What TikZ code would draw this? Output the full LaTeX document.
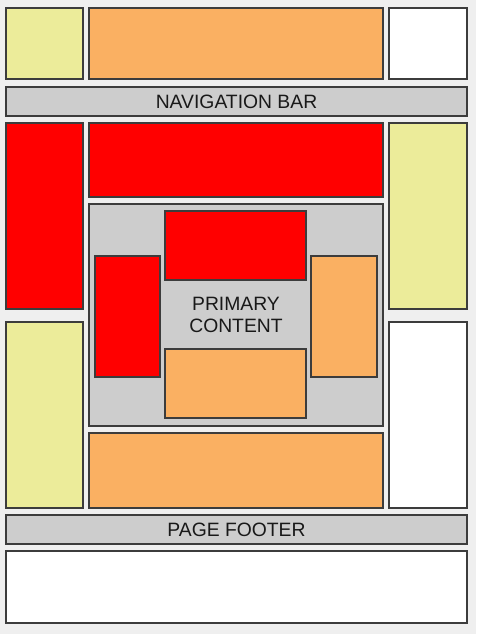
\documentclass[tikz,border=0pt]{standalone}
\usepackage{fontspec}
\setmainfont{Liberation Sans}
\usepackage{xcolor}
\usepackage{tikz}
\definecolor{pagegrey}{HTML}{EFEFEF}
\definecolor{barygrey}{HTML}{CDCDCD}
\definecolor{paleyellow}{HTML}{ECEC9A}
\definecolor{softorange}{HTML}{FAB062}
\definecolor{boxred}{HTML}{FF0000}
\definecolor{edgegrey}{HTML}{3C3C3C}

\begin{document}
\begin{tikzpicture}[x=0.02cm,y=-0.02cm,
  panel/.style={draw=edgegrey,line width=0.6pt},
  caption/.style={font=\fontsize{11}{13}\selectfont,text=black!90,align=center,inner sep=0pt}]

% Page
\fill[pagegrey] (0,0) rectangle (476,634);

% Boxes
\foreach \xa/\ya/\xb/\yb/\c in {6/8/83/79/paleyellow,89/8/383/79/softorange,389/8/467/79/white,
  6/87/467/116/barygrey,
  6/123/83/309/boxred,89/123/383/197/boxred,389/123/467/309/paleyellow,
  89/204/383/426/barygrey,
  165/211/306/280/boxred,95/256/160/377/boxred,311/256/377/377/softorange,165/349/306/418/softorange,
  6/322/83/508/paleyellow,389/322/467/508/white,89/433/383/508/softorange,
  6/515/467/544/barygrey,
  6/551/467/623/white}
{
    \draw[panel,fill=\c] (\xa,\ya) rectangle (\xb,\yb);
}

% Labels
\node[caption] (navbar) at (236.5,101.5) {NAVIGATION BAR};
\node[caption] (primary) at (236,315) {PRIMARY\\CONTENT};
\node[caption] (footer) at (236.5,529.5) {PAGE FOOTER};

\end{tikzpicture}
\end{document}
